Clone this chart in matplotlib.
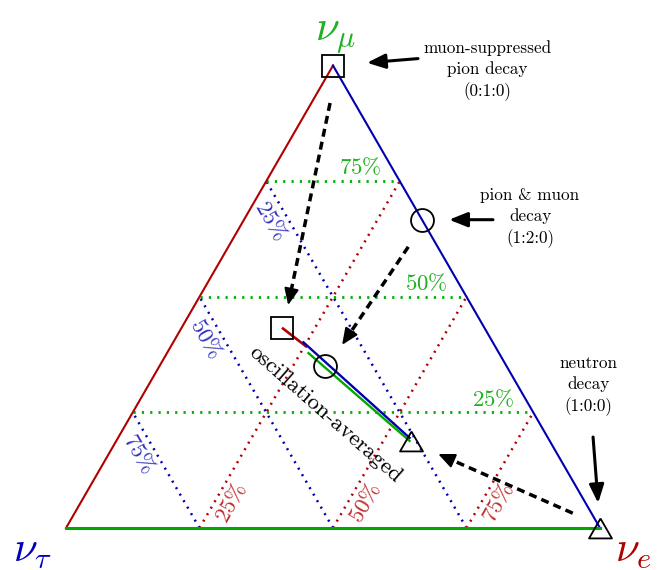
import numpy as np
import matplotlib.pyplot as plt
from matplotlib.transforms import offset_copy

plt.rcParams['mathtext.fontset'] = 'cm'

# flavour triangle: nu_tau at (0,0), nu_e at (1,0), nu_mu on top
H = np.sqrt(3) / 2


def tern(fe, fmu):
    fe = np.asarray(fe, float)
    fmu = np.asarray(fmu, float)
    return fe + fmu / 2, fmu * H


# grid levels and labels
levels = [0.25, 0.5, 0.75]
level_labels = ['25\\%', '50\\%', '75\\%']

# where the % labels sit along each grid line
green_lab_fe = [0.675, 0.424, 0.177]   # on f_mu = level
blue_lab_fmu = [0.665, 0.41, 0.16]     # on f_tau = level
red_lab_fmu = [0.054, 0.054, 0.054]    # on f_e = level

# sources (fe, fmu) and oscillation-averaged ratios
src_names = ['muon-suppressed\npion decay\n(0:1:0)',
             'pion & muon\ndecay\n(1:2:0)',
             'neutron\ndecay\n(1:0:0)']
src_fe = [0.0, 1 / 3, 1.0]
src_fmu = [1.0, 2 / 3, 0.0]
osc_fe = [0.188, 0.310, 0.552]
osc_fmu = [0.433, 0.350, 0.188]

# band of oscillated ratios (fe, fmu) start / end
band_red = [(0.188, 0.433), (0.256, 0.391)]
band_blue = [(0.241, 0.402), (0.548, 0.192)]
band_green = [(0.263, 0.381), (0.552, 0.188)]

# dashed "flow" arrows (fe, fmu): tail -> tip
flow_tail = [(0.035, 0.919), (0.337, 0.608), (0.933, 0.032)]
flow_tip = [(0.175, 0.482), (0.319, 0.396), (0.617, 0.160)]

RED = '#b00000'
BLUE = '#0000b0'
GREEN = '#00a800'

tri = [(0, 0.433), (-0.5, -0.433), (0.5, -0.433), (0, 0.433)]
markers = ['s', 'o', tri]
msizes = [15.8, 16.5, 16.5]

fig = plt.figure(figsize=(6.65, 5.7), dpi=100)
ax = fig.add_axes([0, 0, 1, 1])
ax.set_xlim(-66 / 534, 599 / 534)
ax.set_ylim(-42 / 534, 528 / 534)
ax.axis('off')

dot = (0, (0.8, 2.2))
for v in levels:
    x, y = tern([0, 1 - v], [v, v])
    ax.plot(x, y, color='#00b000', lw=2.0, ls=dot, zorder=1)
    x, y = tern([v, v], [0, 1 - v])
    ax.plot(x, y, color=RED, lw=1.8, ls=dot, zorder=1)
    x, y = tern([1 - v, 0], [0, 1 - v])
    ax.plot(x, y, color=BLUE, lw=1.8, ls=dot, zorder=1)

# edges
x, y = tern([0, 0], [0, 1])
ax.plot(x, y, color=RED, lw=1.5, zorder=2)
x, y = tern([1, 0], [0, 1])
ax.plot(x, y, color=BLUE, lw=1.5, zorder=2)
x, y = tern([0, 1], [0, 0])
ax.plot(x, y, color=GREEN, lw=2.2, zorder=2)

# percentage labels
for v, lab, fe, fmu_b, fmu_r in zip(levels, level_labels, green_lab_fe,
                                    blue_lab_fmu, red_lab_fmu):
    ax.annotate('$\\mathrm{%s}$' % lab, tern(fe, v), xytext=(0, 9.5),
                textcoords='offset points', ha='center', va='center',
                color='#22b022', fontsize=16.5)
    ax.annotate('$\\mathrm{%s}$' % lab, tern(1 - v - fmu_b, fmu_b),
                xytext=(-13, 0), textcoords='offset points', ha='center',
                va='center', color='#3333c0', fontsize=16.5, rotation=-60)
    ax.annotate('$\\mathrm{%s}$' % lab, tern(v, fmu_r), xytext=(13, 0),
                textcoords='offset points', ha='center', va='center',
                color='#c03030', fontsize=16.5, rotation=60)

# oscillated band
x, y = tern(*zip(*band_red))
ax.plot(x, y, color=RED, lw=1.9, zorder=3, solid_capstyle='butt')
x, y = tern(*zip(*band_blue))
ax.plot(x, y, color=BLUE, lw=1.7, zorder=3, solid_capstyle='butt',
        transform=offset_copy(ax.transData, fig, x=0.4, y=0.4, units='points'))
x, y = tern(*zip(*band_green))
ax.plot(x, y, color=GREEN, lw=1.7, zorder=3, solid_capstyle='butt',
        transform=offset_copy(ax.transData, fig, x=-0.4, y=-0.4, units='points'))

# band label, aligned with the band
p0 = np.array(tern(*band_red[0]))
p1 = np.array(tern(*band_green[1]))
ang = np.degrees(np.arctan2(p1[1] - p0[1], p1[0] - p0[0]))
ax.text(*tern(0.362, 0.2465), 'oscillation-averaged', family='cmr10',
        fontsize=16.5, rotation=ang, ha='center', va='center',
        rotation_mode='anchor', zorder=4)

# source and oscillated markers
for m, ms, fe, fmu, ofe, ofmu in zip(markers, msizes, src_fe, src_fmu,
                                     osc_fe, osc_fmu):
    for a, b in [(fe, fmu), (ofe, ofmu)]:
        x, y = tern(a, b)
        ax.plot(x, y, marker=m, ms=ms, mfc='none', mec='k', mew=1.3,
                ls='none', zorder=5)

# dashed arrows from source to oscillated point
for t0, t1 in zip(flow_tail, flow_tip):
    a = np.array(tern(*t0))
    b = np.array(tern(*t1))
    d = (b - a) / np.hypot(*(b - a))
    c = b - d * 0.016
    ax.plot([a[0], c[0]], [a[1], c[1]], color='k', lw=2.5,
            ls=(0, (2.3, 1.5)), zorder=4)
    ax.annotate('', xy=b, xytext=b - d * 0.025,
                arrowprops=dict(arrowstyle='-|>,head_length=0.5,head_width=0.22',
                                color='k', lw=1.5, mutation_scale=20,
                                shrinkA=0, shrinkB=0), zorder=4)

# source descriptions with solid arrows
text_off = [(110.9, -3.6), (77.8, 1.4), (-8.6, 102.2)]
tail_off = [(61.2, 5.0), (51.1, 0.0), (-5.0, 65.5)]
shrink = [24.5, 19.5, 18.0]
for name, fe, fmu, to, ao, s in zip(src_names, src_fe, src_fmu,
                                    text_off, tail_off, shrink):
    p = tern(fe, fmu)
    ax.annotate(name, p, xytext=to, textcoords='offset points',
                ha='center', va='center', family='cmr10', fontsize=12.3,
                linespacing=1.4, multialignment='center')
    ax.annotate('', xy=p, xytext=ao, textcoords='offset points',
                arrowprops=dict(arrowstyle='-|>,head_length=0.55,head_width=0.22',
                                color='k', lw=2.2, mutation_scale=20,
                                shrinkA=0, shrinkB=s))

# vertex labels
ax.annotate('$\\nu_\\mu$', tern(0, 1), xytext=(2, 22), textcoords='offset points',
            ha='center', va='center', color='#20b020', fontsize=31)
ax.annotate('$\\nu_e$', tern(1, 0), xytext=(24, -16), textcoords='offset points',
            ha='center', va='center', color=RED, fontsize=31)
ax.annotate('$\\nu_\\tau$', tern(0, 0), xytext=(-24, -15.5), textcoords='offset points',
            ha='center', va='center', color='#0000c0', fontsize=31)

fig.savefig('out.png', dpi=100)
